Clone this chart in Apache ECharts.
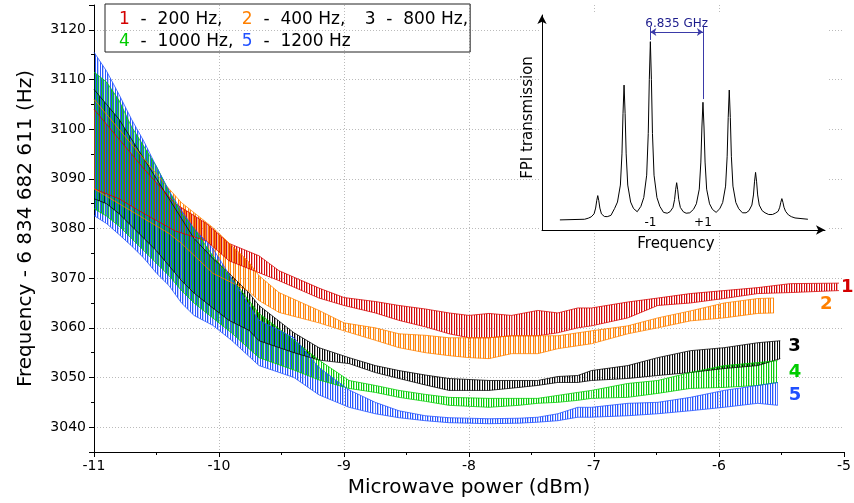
<!DOCTYPE html>
<html><head><meta charset="utf-8">
<script src="https://cdn.jsdelivr.net/npm/echarts@6/dist/echarts.min.js"></script>
<style>html,body{margin:0;padding:0;background:#fff}#c{width:854px;height:503px}</style>
</head><body><div id="c"></div>
<script>
// ---- main chart data: oscillation envelopes (upper/lower) ----
const s1X  = [-11,-10.8,-10.6,-10.35,-10.1,-9.92,-9.68,-9.52,-9.2,-9.0,-8.75,-8.56,-8.35,-8.16,-8.0,-7.84,-7.66,-7.45,-7.29,-7.13,-7.02,-6.73,-6.49,-6.23,-5.96,-5.69,-5.43,-5.04];
const s1Hi = [3104,3098,3092,3085,3081,3077,3074.5,3071.5,3068,3066.1,3065.3,3064.5,3063.8,3063,3062.5,3062.9,3062.5,3063.5,3063,3064,3064,3065.2,3066,3066.9,3067.5,3068.1,3068.9,3069];
const s1Lo = [3088,3086,3083,3079.5,3077.5,3073.5,3071.1,3069.5,3066,3064.5,3063,3061.5,3060.2,3058.8,3058,3058,3058.4,3058.4,3059,3060,3060.4,3062,3064.5,3065,3065.9,3066.9,3067.1,3067.5];

const s2X  = [-11,-10.8,-10.6,-10.4,-10.3,-10.05,-9.77,-9.68,-9.52,-9.2,-9.0,-8.75,-8.56,-8.35,-8.16,-8.0,-7.84,-7.66,-7.45,-7.29,-7.02,-6.73,-6.49,-6.23,-5.96,-5.69,-5.56];
const s2Hi = [3106,3100,3094,3088,3085.2,3080.2,3073.5,3070.5,3067.1,3063.5,3061,3060,3058.8,3058.5,3058,3058,3058,3058.4,3058.4,3058.4,3059.4,3060.4,3062,3063.4,3065,3065.9,3066];
const s2Lo = [3088,3085,3082,3079,3077,3071,3067.5,3065.5,3063.1,3061,3059.4,3057.5,3056,3055,3054.4,3054,3053.8,3054.8,3054.8,3055.8,3056.8,3058.8,3060,3061.4,3062,3062.9,3063];

const s3X  = [-11,-10.9,-10.8,-10.7,-10.6,-10.5,-10.4,-10.3,-10.2,-10.05,-9.92,-9.76,-9.68,-9.4,-9.2,-8.96,-8.75,-8.56,-8.35,-8.16,-7.84,-7.6,-7.45,-7.29,-7.13,-7.02,-6.73,-6.49,-6.23,-5.96,-5.69,-5.51];
const s3Hi = [3108,3105,3102,3098,3094,3090,3086,3082,3078,3074,3071,3067,3064.5,3059,3056,3054,3052.4,3051.4,3050.5,3049.8,3049.4,3049.4,3049.4,3050.2,3050.4,3051.4,3052.4,3054,3055.4,3056,3057,3057.4];
const s3Lo = [3086,3085,3083,3080.5,3078,3075.5,3072.5,3069.5,3067,3064,3061.5,3059.5,3057.4,3055,3053.5,3052.8,3051,3049.8,3048.5,3047.4,3047.4,3048,3048.4,3049,3049,3049.4,3049.8,3050.4,3051,3051.8,3052.4,3053.8];

const s4X  = [-11,-10.9,-10.8,-10.7,-10.6,-10.5,-10.4,-10.3,-10.2,-10.05,-9.9,-9.68,-9.4,-9.2,-8.96,-8.75,-8.56,-8.35,-8.16,-7.84,-7.6,-7.45,-7.29,-7.13,-7.02,-6.73,-6.49,-6.23,-5.96,-5.69,-5.53];
const s4Hi = [3111.5,3109.5,3105.8,3100.5,3096.5,3092.5,3087.5,3083,3080,3074.5,3070,3062.9,3057.5,3053.5,3049.4,3048.4,3047.4,3046.6,3046,3045.8,3045.8,3045.8,3046.4,3047,3047.4,3048.8,3049.4,3051,3052.4,3053,3053.4];
const s4Lo = [3084,3082.5,3080.5,3078,3075.5,3073,3070.5,3067.5,3065,3062,3059,3054,3051.5,3049.5,3047.8,3047,3046,3045.2,3044.4,3044,3044.4,3044.8,3045,3045.4,3045.8,3046,3046.8,3047.8,3048,3048.4,3049];

const s5X  = [-11,-10.9,-10.8,-10.7,-10.6,-10.5,-10.4,-10.3,-10.2,-10.05,-9.9,-9.68,-9.4,-9.2,-8.96,-8.75,-8.56,-8.35,-8.16,-7.84,-7.6,-7.45,-7.29,-7.13,-7.02,-6.73,-6.49,-6.23,-5.96,-5.69,-5.53];
const s5Hi = [3115.5,3111.7,3107,3102,3097.5,3092.4,3087.6,3083.6,3080,3076,3070,3061.5,3058,3052,3047.5,3045,3043.3,3042.3,3041.9,3041.7,3041.8,3042,3042.7,3044,3044,3044.8,3045,3046,3047.4,3048.4,3049];
const s5Lo = [3082.6,3081,3078.8,3076.5,3074,3071,3068.5,3065,3062.5,3060.5,3057.5,3052.4,3050,3046.5,3044,3042.7,3041.9,3041.3,3040.9,3040.7,3040.8,3041,3041.3,3042,3042,3042.3,3042.7,3043.3,3044,3044.8,3044.4];

const seriesNames = ['1','2','3','4','5'];
const seriesFreq  = ['200 Hz,','400 Hz,','800 Hz,','1000 Hz,','1200 Hz'];

// ---- inset: FPI transmission spectrum (arbitrary units) ----
const fpiX = [-4.44,-3.5,-3.36,-3.25,-3.14,-3.08,-3.04,-3,-2.96,-2.92,-2.86,-2.75,-2.64,-2.5,-2.36,-2.25,-2.14,-2.08,-2.04,-2,-1.96,-1.92,-1.86,-1.75,-1.64,-1.5,-1.36,-1.25,-1.14,-1.08,-1.04,-1,-0.96,-0.92,-0.86,-0.75,-0.64,-0.5,-0.36,-0.25,-0.14,-0.08,-0.04,0,0.04,0.08,0.14,0.25,0.36,0.5,0.64,0.75,0.86,0.92,0.96,1,1.04,1.08,1.14,1.25,1.36,1.5,1.64,1.75,1.86,1.92,1.96,2,2.04,2.08,2.14,2.25,2.36,2.5,2.64,2.75,2.86,2.92,2.96,3,3.04,3.08,3.14,3.25,3.36,3.5,3.64,3.75,3.86,3.92,3.96,4,4.04,4.08,4.14,4.25,4.36,4.5,4.99];
const fpiY = [0.047,0.05,0.055,0.061,0.075,0.102,0.136,0.16,0.136,0.102,0.075,0.063,0.062,0.068,0.10,0.13,0.209,0.354,0.541,0.674,0.541,0.354,0.209,0.13,0.10,0.085,0.11,0.151,0.255,0.449,0.699,0.876,0.699,0.449,0.255,0.151,0.11,0.082,0.078,0.085,0.105,0.141,0.187,0.22,0.187,0.141,0.105,0.085,0.078,0.08,0.096,0.122,0.19,0.316,0.479,0.594,0.479,0.316,0.19,0.122,0.096,0.082,0.099,0.128,0.204,0.343,0.523,0.651,0.523,0.343,0.204,0.128,0.099,0.08,0.08,0.09,0.116,0.163,0.224,0.268,0.224,0.163,0.116,0.09,0.08,0.072,0.072,0.078,0.087,0.106,0.129,0.146,0.129,0.106,0.087,0.07,0.062,0.056,0.05];
const fpiTicks = [-1, 1];
const gapX = [-1, 1];            // sidebands -1 and +1
const gapArrowY = 0.921, gapTopY = 0.944, gapLeftBottomY = 0.884, gapRightBottomY = 0.609;
const gapLabel = '6.835 GHz';

const FONT = 'DejaVu Sans';
const colors = ['#d40000','#ff8000','#000000','#00cc00','#2050ff'];
const labelColors = ['#d40000','#ff8000','#000000','#00cc00','#2050ff'];
const labelOffsets = [[0,4],[44,6],[6,6],[9,12],[9,13]];
const stripeCols  = [[4,1],[3,0],[4,2],[1,3],[0,2]];   // solid texture columns of each band (5-px period)
const stripeLight = [2,4,0,4,3];                        // faint texture column
const drawOrder   = [2,0,1,3,4];

function stripe(color, cols, light) {
  const c = document.createElement('canvas');
  c.width = 5; c.height = 4;
  const ctx = c.getContext('2d');
  ctx.fillStyle = color;
  ctx.globalAlpha = 0.3;
  ctx.fillRect(light, 0, 1, 4);
  ctx.globalAlpha = 0.95;
  cols.forEach(cx => ctx.fillRect(cx, 0, 1, 4));
  return c;
}

const sets = [[s1X,s1Lo,s1Hi],[s2X,s2Lo,s2Hi],[s3X,s3Lo,s3Hi],[s4X,s4Lo,s4Hi],[s5X,s5Lo,s5Hi]];
const series = [];
drawOrder.forEach(k => {
  const [xs, lo, hi] = sets[k];
  const col = colors[k];
  const pattern = { image: stripe(col, stripeCols[k], stripeLight[k]), repeat: 'repeat' };
  // oscillation band between lower and upper envelope, one quad per data interval
  series.push({
    name: seriesNames[k] + 'band', type: 'custom', silent: true, z: 2, clip: true,
    data: xs.slice(0, -1).map((x, i) => [x, lo[i], hi[i], xs[i + 1], lo[i + 1], hi[i + 1]]),
    encode: { x: [0, 3], y: [1, 2, 4, 5] },
    renderItem: (params, api) => {
      const pts = [
        api.coord([api.value(0), api.value(1)]),
        api.coord([api.value(3), api.value(4)]),
        api.coord([api.value(3), api.value(5)]),
        api.coord([api.value(0), api.value(2)])
      ];
      return { type: 'polygon', shape: { points: pts }, style: { fill: pattern, stroke: null } };
    }
  });
  series.push({
    name: seriesNames[k] + 'lo', type: 'line', symbol: 'none', silent: true, z: 2,
    data: xs.map((x, i) => [x, lo[i]]),
    lineStyle: { color: col, width: 1, opacity: 0.75 }, itemStyle: { color: col }
  });
  series.push({
    name: seriesNames[k], type: 'line', symbol: 'none', silent: true, z: 2,
    data: xs.map((x, i) => [x, hi[i]]),
    lineStyle: { color: col, width: 1, opacity: 0.75 }, itemStyle: { color: col },
    endLabel: { show: true, formatter: seriesNames[k], color: labelColors[k], fontFamily: FONT,
                fontSize: 18, fontWeight: 'bold', distance: 2, offset: labelOffsets[k] }
  });
});

// inset curve + annotation
series.push({
  name: 'fpi', type: 'line', xAxisIndex: 1, yAxisIndex: 1, symbol: 'none', silent: true, z: 12,
  data: fpiX.map((x, i) => [x, fpiY[i]]),
  lineStyle: { color: '#000', width: 1 },
  markLine: {
    silent: true, symbol: 'none', animation: false,
    lineStyle: { color: '#3a3aa8', width: 1, type: 'solid' },
    label: { show: false },
    data: [
      [{ coord: [gapX[0], gapTopY] }, { coord: [gapX[0], gapLeftBottomY] }],
      [{ coord: [gapX[1], gapTopY] }, { coord: [gapX[1], gapRightBottomY] }],
      [{ coord: [gapX[0], gapArrowY], symbol: 'arrow', symbolSize: 6 },
       { coord: [gapX[1], gapArrowY], symbol: 'arrow', symbolSize: 6,
         label: { show: true, formatter: gapLabel, position: 'insideMiddleTop', distance: 2,
                  color: '#1c1c8c', fontFamily: FONT, fontSize: 12 } }]
    ]
  }
});

const rich = {};
seriesNames.forEach((n, k) => { rich['c' + n] = { color: labelColors[k], fontSize: 17, fontFamily: FONT, lineHeight: 20 }; });
rich.w = { color: '#000', fontSize: 17, fontFamily: FONT, lineHeight: 20, width: 105, align: 'left' };
rich.t = { color: '#000', fontSize: 17, fontFamily: FONT, lineHeight: 20 };
const wideItems = ['1', '2', '4'];

const chart = echarts.init(document.getElementById('c'), null, { renderer: 'canvas' });
chart.setOption({
  animation: false,
  backgroundColor: '#fff',
  textStyle: { fontFamily: FONT },
  graphic: [{ type: 'rect', left: 541, top: 13, shape: { width: 286, height: 220 }, style: { fill: '#fff' }, z: 5, silent: true }],
  legend: {
    data: seriesNames, left: 105, top: 4, width: 375, icon: 'none', itemWidth: 0, itemHeight: 14,
    itemGap: 2, padding: [6, 2, 0, 9], borderColor: '#222', borderWidth: 1, selectedMode: false,
    formatter: name => `{c${name}|${name}}{${wideItems.includes(name) ? 'w' : 't'}|  -  ${seriesFreq[seriesNames.indexOf(name)]}}`,
    textStyle: { fontSize: 17, fontFamily: FONT, color: '#000', lineHeight: 20, rich }
  },
  grid: [
    { left: 94, right: 7, top: 5, bottom: 51 },
    { left: 542, top: 15, width: 283, height: 215 }
  ],
  xAxis: [
    { type: 'value', min: -11, max: -5, interval: 1, gridIndex: 0,
      name: 'Microwave power (dBm)', nameLocation: 'middle', nameGap: 26,
      nameTextStyle: { fontSize: 20, fontFamily: FONT, color: '#000' },
      axisLine: { onZero: false, lineStyle: { color: '#000', width: 1 } },
      axisTick: { show: true, inside: false, length: 5, lineStyle: { color: '#000' } },
      minorTick: { show: true, splitNumber: 2, length: 3, lineStyle: { color: '#000' } },
      axisLabel: { fontSize: 14, fontFamily: FONT, color: '#000', margin: 7, formatter: v => String(v) },
      splitLine: { show: true, showMinLine: false, showMaxLine: false, lineStyle: { color: '#bbb', type: [1, 2] } } },
    { type: 'value', min: -5.12, max: 5.64, gridIndex: 1, z: 11,
      name: 'Frequency', nameLocation: 'middle', nameGap: 7,
      nameTextStyle: { fontSize: 15, fontFamily: FONT, color: '#000', verticalAlign: 'top', padding: [0, 15, 0, 0] },
      axisLine: { onZero: false, symbol: ['none', 'arrow'], symbolSize: [7, 9], lineStyle: { color: '#000', width: 1 } },
      axisTick: { show: false },
      axisLabel: { show: true, customValues: fpiTicks, inside: true, margin: 1, fontSize: 12, fontFamily: FONT, color: '#000',
                   formatter: v => (v > 0 ? '+' + v : String(v)) },
      splitLine: { show: false } }
  ],
  yAxis: [
    { type: 'value', min: 3035, max: 3125, splitNumber: 9, gridIndex: 0,
      name: 'Frequency - 6 834 682 611 (Hz)', nameLocation: 'middle', nameGap: 58,
      nameTextStyle: { fontSize: 20, fontFamily: FONT, color: '#000' },
      axisLine: { show: true, onZero: false, lineStyle: { color: '#000', width: 1 } },
      axisTick: { show: true, length: 5, lineStyle: { color: '#000' } },
      minorTick: { show: true, splitNumber: 2, length: 3, lineStyle: { color: '#000' } },
      axisLabel: { fontSize: 14, fontFamily: FONT, color: '#000', margin: 8, showMinLabel: false, showMaxLabel: false,
                   formatter: v => String(v) },
      splitLine: { show: true, showMinLine: false, showMaxLine: false, lineStyle: { color: '#bbb', type: [1, 2] } } },
    { type: 'value', min: 0, max: 1, gridIndex: 1, z: 11,
      name: 'FPI transmission', nameLocation: 'middle', nameGap: 6,
      nameTextStyle: { fontSize: 15, fontFamily: FONT, color: '#000', padding: [0, 0, 0, 10] },
      axisLine: { show: true, onZero: false, symbol: ['none', 'arrow'], symbolSize: [7, 9], lineStyle: { color: '#000', width: 1 } },
      axisTick: { show: false }, axisLabel: { show: false }, splitLine: { show: false } }
  ],
  series
});
</script>
</body></html>
